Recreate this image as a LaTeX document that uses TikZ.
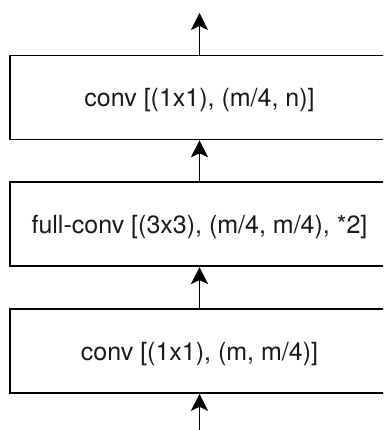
\documentclass[tikz,border=0pt]{standalone}
\usepackage{fontspec}
\setmainfont{TeX Gyre Heros}
\usetikzlibrary{arrows.meta}
\tikzset{
  layerbox/.style={draw=black, line width=1.6pt, fill=white,
    minimum width=379pt, minimum height=84pt, inner sep=0pt,
    text height=24pt, text depth=5pt,
    font=\fontsize{25}{30}\selectfont, text=black!90},
  flowarrow/.style={line width=1.6pt, draw=black,
    -{Stealth[length=17pt, width=17pt, inset=4pt]}}
}
\begin{document}
\begin{tikzpicture}[x=1pt, y=-1pt]
  \useasboundingbox (0,0) rectangle (383,430);
  \clip (0,0) rectangle (383,430);
  \node[layerbox] (top) at (199.5,97.5) {conv [(1x1), (m/4, n)]};
  \node[layerbox] (mid) at (199.5,224.25) {full-conv [(3x3), (m/4, m/4), *2]};
  \node[layerbox] (bot) at (199.5,351) {conv [(1x1), (m, m/4)]};
  \coordinate (out) at (199.5,13);
  \coordinate (in) at (199.5,432);
  \draw[flowarrow] (top.north) -- (out);
  \draw[flowarrow] (mid.north) -- (top.south);
  \draw[flowarrow] (bot.north) -- (mid.south);
  \draw[flowarrow] (in) -- (bot.south);
\end{tikzpicture}
\end{document}
